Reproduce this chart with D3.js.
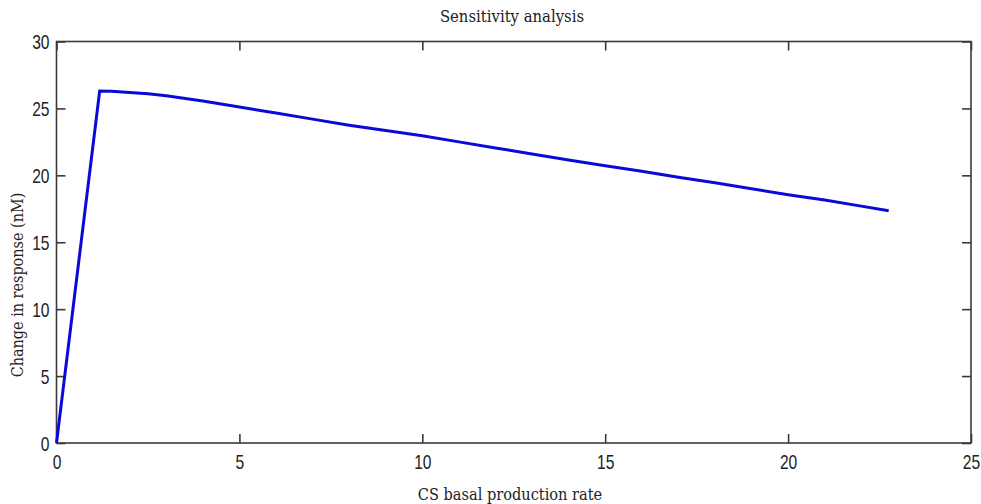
<!DOCTYPE html>
<html>
<head>
<meta charset="utf-8">
<script src="https://cdn.jsdelivr.net/npm/d3@7"></script>
<style>
  html, body { margin: 0; padding: 0; background: #fff; }
  svg { display: block; }
  .tick text { font-family: "Liberation Sans", "DejaVu Sans", sans-serif; }
  .lbl { font-family: "DejaVu Serif Condensed", "DejaVu Serif", serif; fill: #222; }
</style>
</head>
<body>
<script>
// Sensitivity of the response to the CS basal production rate
const rates = [0, 1.18, 1.5, 1.8, 2.5, 3, 4, 5, 6, 7, 8, 9, 10, 11, 12, 13, 14, 15, 16, 17, 18, 19, 20, 21, 22, 22.75];
const responses = [0, 26.3, 26.28, 26.22, 26.1, 25.95, 25.55, 25.1, 24.65, 24.2, 23.75, 23.35, 22.95, 22.5, 22.05, 21.6, 21.15, 20.72, 20.3, 19.85, 19.45, 19.0, 18.55, 18.15, 17.7, 17.35];
const xTicks = [0, 5, 10, 15, 20, 25];
const yTicks = [0, 5, 10, 15, 20, 25, 30];

const W = 981, H = 504;
const m = { left: 56.5, right: 10, top: 41.5, bottom: 61 };

const svg = d3.select("body").append("svg").attr("width", W).attr("height", H);

const x = d3.scaleLinear().domain([0, 25]).range([m.left, W - m.right]);
const y = d3.scaleLinear().domain([0, 30]).range([H - m.bottom, m.top]);

const axisColor = "#3a3a3a";
const tickLen = 9;
const narrow = 0.78; // horizontal squeeze for the narrow tick digits

// frame
svg.append("rect")
  .attr("x", x(0)).attr("y", y(30))
  .attr("width", x(25) - x(0)).attr("height", y(0) - y(30))
  .attr("fill", "none").attr("stroke", axisColor).attr("stroke-width", 1.6);

// bottom axis with inward ticks
const gx = svg.append("g").attr("transform", `translate(0,${y(0)})`)
  .call(d3.axisBottom(x).tickValues(xTicks).tickSizeInner(-tickLen).tickSizeOuter(0).tickPadding(20));
// top mirror ticks
svg.append("g").attr("transform", `translate(0,${y(30)})`)
  .call(d3.axisTop(x).tickValues(xTicks).tickSizeInner(-tickLen).tickSizeOuter(0).tickFormat(""));
// left axis
const gy = svg.append("g").attr("transform", `translate(${x(0)},0)`)
  .call(d3.axisLeft(y).tickValues(yTicks).tickSizeInner(-tickLen).tickSizeOuter(0).tickPadding(7));
// right mirror ticks
svg.append("g").attr("transform", `translate(${x(25)},0)`)
  .call(d3.axisRight(y).tickValues(yTicks).tickSizeInner(-tickLen).tickSizeOuter(0).tickFormat(""));

svg.selectAll(".domain").remove();
svg.selectAll(".tick line").attr("stroke", axisColor).attr("stroke-width", 1.6);
svg.selectAll(".tick text").attr("fill", "#222").attr("font-size", 20);
gx.selectAll(".tick text").attr("dy", "0.3em").attr("transform", `scale(${narrow},1)`);
gy.selectAll(".tick text")
  .attr("dy", "0.35em")
  .attr("x", -7 / narrow)
  .attr("transform", `scale(${narrow},1)`);

// response curve
const line = d3.line().x((d, i) => x(rates[i])).y(d => y(d));
svg.append("path")
  .datum(responses)
  .attr("d", line)
  .attr("fill", "none")
  .attr("stroke", "#0a0ad8")
  .attr("stroke-width", 3)
  .attr("stroke-linejoin", "miter");

// title and axis labels
svg.append("text").attr("class", "lbl")
  .attr("x", 512).attr("y", 22)
  .attr("text-anchor", "middle").attr("font-size", 16.5)
  .text("Sensitivity analysis");

svg.append("text").attr("class", "lbl")
  .attr("x", 510).attr("y", 500)
  .attr("text-anchor", "middle").attr("font-size", 16.2)
  .text("CS basal production rate");

svg.append("text").attr("class", "lbl")
  .attr("transform", `translate(23,285) rotate(-90)`)
  .attr("text-anchor", "middle").attr("font-size", 16)
  .text("Change in response (nM)");
</script>
</body>
</html>
